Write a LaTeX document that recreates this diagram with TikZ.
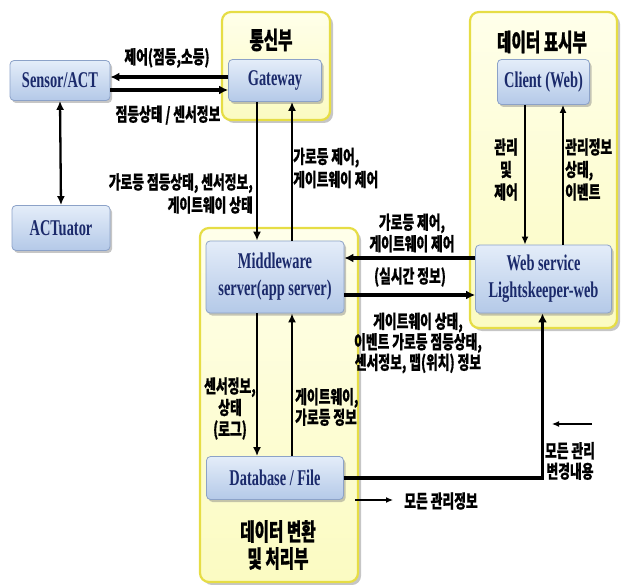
\documentclass[tikz,border=0pt]{standalone}
\usepackage{fontspec}
\setmainfont{Liberation Serif}
\newfontfamily\enf[FakeStretch=0.64]{Liberation Serif}
\newfontfamily\krf[FakeStretch=0.69,BoldFeatures={FakeBold=0.6}]{Noto Sans CJK KR}
\newfontfamily\krt[FakeStretch=0.65,BoldFeatures={FakeBold=0.8}]{Noto Sans CJK KR}
\usetikzlibrary{arrows.meta,shadows}
\definecolor{navy}{HTML}{1B2A6B}
\definecolor{blkborder}{HTML}{8CA2C8}
\definecolor{blktop}{HTML}{E4EDF9}
\definecolor{blkbot}{HTML}{B4C9E8}
\definecolor{grpborder}{HTML}{E6DD45}
\definecolor{grptop}{HTML}{FFFFEA}
\definecolor{grpbot}{HTML}{FBFBC2}
\begin{document}
\begin{tikzpicture}[x=1pt,y=-1pt,
  grp/.style={draw=grpborder, line width=2.2pt, rounded corners=9pt, top color=grptop, bottom color=grpbot,
    drop shadow={shadow xshift=3pt,shadow yshift=-3pt,opacity=0.45}, inner sep=0pt},
  blk/.style={draw=blkborder, line width=0.8pt, rounded corners=4pt, top color=blktop, bottom color=blkbot,
    drop shadow={shadow xshift=2pt,shadow yshift=-2.5pt,opacity=0.45},
    font=\enf\bfseries\fontsize{22.5}{27}\selectfont, text=navy, align=center, inner sep=0pt},
  lab/.style={font=\krf\bfseries\fontsize{18.5}{21.5}\selectfont, align=center, inner sep=0pt},
  lab2/.style={font=\krf\bfseries\fontsize{18.5}{20.5}\selectfont, align=center, inner sep=0pt},
  ttl/.style={font=\krt\bfseries\fontsize{24}{27}\selectfont, align=center, inner sep=0pt},
  harr/.style={line width=3.2pt, -{Latex[length=9pt,width=9pt]}},
  varr/.style={line width=2.3pt, -{Latex[length=9pt,width=8pt]}},
  carr/.style={line width=2pt, -{Latex[length=8pt,width=7pt]}},
  tarr/.style={line width=1.2pt, -{Latex[length=7pt,width=6pt]}}
]
\useasboundingbox (0,0) rectangle (626,585);
% containers
\node[grp, minimum width=108pt, minimum height=108pt] (g1) at (276,66) {};
\node[grp, minimum width=147pt, minimum height=316pt] (g2) at (543.5,170) {};
\node[grp, minimum width=158pt, minimum height=354pt] (g3) at (279,405) {};
% titles
\node[ttl] (t1) at (271,40) {통신부};
\node[ttl] (t2) at (542,42) {데이터 표시부};
\node[ttl] (t3) at (278,545) {데이터 변환\\및 처리부};
% boxes
\node[blk, minimum width=100pt, minimum height=40pt] (sensor) at (60,80.5) {Sensor/ACT};
\node[blk, minimum width=93pt, minimum height=42pt] (gw) at (275,80.5) {Gateway};
\node[blk, minimum width=92pt, minimum height=45pt] (client) at (543.5,82) {Client (Web)};
\node[blk, minimum width=136pt, minimum height=68pt] (web) at (543.5,279) {Web service\\Lightskeeper-web};
\node[blk, minimum width=138pt, minimum height=72pt] (mid) at (275,277) {Middleware\\server(app server)};
\node[blk, minimum width=137pt, minimum height=43pt] (db) at (275,478) {Database / File};
\node[blk, minimum width=98pt, minimum height=45pt] (act) at (61,228) {ACTuator};
% arrows
\draw[harr] ([yshift=3.5pt]gw.west) -- ([yshift=3.5pt]sensor.east);
\draw[harr] ([yshift=-9.5pt]sensor.east) -- ([yshift=-9.5pt]gw.west);
\draw[varr, {Latex[length=9pt,width=8pt]}-{Latex[length=9pt,width=8pt]}] (sensor.south) -- (act.north);
\draw[varr] ([xshift=-18pt]gw.south) -- ([xshift=-18pt]mid.north);
\draw[varr] ([xshift=17pt]mid.north) -- ([xshift=17pt]gw.south);
\draw[harr] ([yshift=21pt]web.west) -- ([yshift=19pt]mid.east);
\draw[harr] ([yshift=-18pt]mid.east) -- ([yshift=-16pt]web.west);
\draw[varr] ([xshift=-18pt]mid.south) -- ([xshift=-18pt]db.north);
\draw[varr] ([xshift=17pt]db.north) -- ([xshift=17pt]mid.south);
\draw[carr] ([xshift=-18.5pt]client.south) -- ([xshift=-18.5pt]web.north);
\draw[carr] ([xshift=19.5pt]web.north) -- ([xshift=19.5pt]client.south);
\draw[harr] (db.east) -| ([xshift=-1pt]web.south);
% legend arrows
\coordinate (la1) at (592,424);
\coordinate (la2) at (552,424);
\coordinate (lb1) at (355,500);
\coordinate (lb2) at (393,500);
\draw[tarr] (la1) -- (la2);
\draw[tarr] (lb1) -- (lb2);
% labels
\node[lab] (l1) at (167,58) {제어(점등,소등)};
\node[lab] (l2) at (168,115) {점등상태 / 센서정보};
\node[lab, anchor=east, align=right, font=\krf\bfseries\fontsize{18.5}{23}\selectfont] (l3) at (253,193.5) {가로등 점등상태, 센서정보,\\게이트웨이 상태};
\node[lab, anchor=west, align=left, font=\krf\bfseries\fontsize{18.5}{23}\selectfont] (l4) at (293,168) {가로등 제어,\\게이트웨이 제어};
\node[lab] (l5) at (412,233) {가로등 제어,\\게이트웨이 제어};
\node[lab] (l6) at (410,277) {(실시간 정보)};
\node[lab2] (l7) at (418,343) {게이트웨이 상태,\\이벤트 가로등 점등상태,\\센서정보, 맵(위치) 정보};
\node[lab, font=\krf\bfseries\fontsize{18.5}{22.5}\selectfont] (l8) at (506,169.5) {관리\\및\\제어};
\node[lab, anchor=west, align=left, font=\krf\bfseries\fontsize{18.5}{22.5}\selectfont] (l9) at (565,169.5) {관리정보\\상태,\\이벤트};
\node[lab] (l10) at (230,408.5) {센서정보,\\상태\\(로그)};
\node[lab2, anchor=west, align=left] (l11) at (295,407) {게이트웨이,\\가로등 정보};
\node[lab2] (l12) at (570,461) {모든 관리\\변경내용};
\node[lab] (l13) at (441,501) {모든 관리정보};
\end{tikzpicture}
\end{document}
